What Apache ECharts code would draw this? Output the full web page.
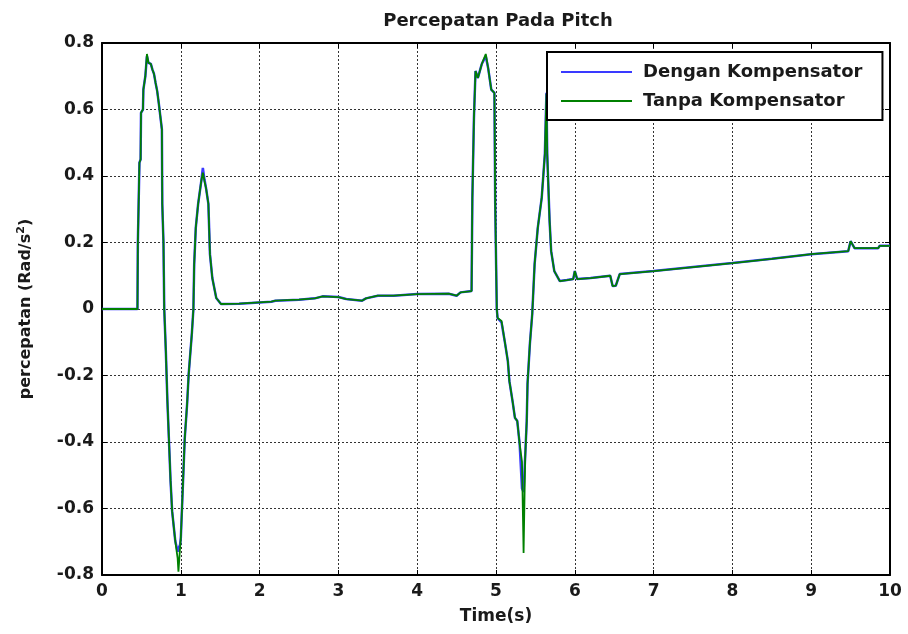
<!DOCTYPE html>
<html>
<head>
<meta charset="utf-8">
<title>Percepatan Pada Pitch</title>
<script src="https://cdn.jsdelivr.net/npm/echarts@6/dist/echarts.min.js"></script>
<style>
  html, body { margin: 0; padding: 0; background: #ffffff; }
  #chart { width: 908px; height: 634px; }
</style>
</head>
<body>
<div id="chart"></div>
<script>
// Pitch acceleration response, with and without the compensator.
const seriesNames = ['Dengan Kompensator', 'Tanpa Kompensator'];

// Sample times (s)
const times = [
  0, 0.45, 0.455, 0.47, 0.475, 0.49, 0.495, 0.52, 0.525, 0.55,
  0.57, 0.59, 0.62, 0.64, 0.66, 0.68, 0.70, 0.72, 0.74, 0.76,
  0.765, 0.78, 0.79, 0.81, 0.83, 0.85, 0.87, 0.89, 0.93, 0.96,
  0.97, 0.99, 1.0, 1.02, 1.05, 1.08, 1.10, 1.14, 1.16, 1.17,
  1.19, 1.22, 1.26, 1.28, 1.30, 1.32, 1.35, 1.37, 1.40, 1.45,
  1.51, 1.74, 1.76, 2.15, 2.2, 2.5, 2.7, 2.8, 3.0, 3.1,
  3.3, 3.35, 3.5, 3.7, 4.0, 4.4, 4.5, 4.55, 4.69, 4.70,
  4.72, 4.74, 4.77, 4.82, 4.87, 4.90, 4.94, 4.98, 4.99, 5.01,
  5.02, 5.07, 5.11, 5.15, 5.17, 5.21, 5.24, 5.27, 5.30, 5.33,
  5.35, 5.37, 5.39, 5.40, 5.43, 5.46, 5.49, 5.53, 5.58, 5.62,
  5.64, 5.65, 5.68, 5.70, 5.74, 5.81, 5.90, 5.98, 6.0, 6.03,
  6.2, 6.45, 6.48, 6.52, 6.57, 7.0, 7.5, 8.0, 8.5, 9.0,
  9.47, 9.5, 9.55, 9.85, 9.87, 10
];

// Acceleration with compensator (rad/s^2)
const denganKompensator = [
  0, 0, 0.2, 0.2, 0.44, 0.45, 0.59, 0.6, 0.66, 0.7,
  0.76, 0.74, 0.737, 0.72, 0.707, 0.68, 0.656, 0.62, 0.58, 0.54,
  0.316, 0.2, 0.0, -0.126, -0.277, -0.397, -0.517, -0.608, -0.698, -0.73,
  -0.72, -0.71, -0.69, -0.57, -0.39, -0.286, -0.196, -0.075, 0.0, 0.135,
  0.244, 0.316, 0.385, 0.424, 0.39, 0.364, 0.316, 0.165, 0.093, 0.033,
  0.015, 0.016, 0.02, 0.022, 0.025, 0.028, 0.032, 0.038, 0.036, 0.03,
  0.025, 0.032, 0.04, 0.04, 0.045, 0.046, 0.04, 0.05, 0.054, 0.334,
  0.574, 0.716, 0.695, 0.737, 0.76, 0.725, 0.66, 0.65, 0.316, 0.0,
  -0.027, -0.04, -0.096, -0.156, -0.217, -0.277, -0.327, -0.337, -0.406, -0.54,
  -0.55, -0.55, -0.337, -0.226, -0.105, -0.015, 0.135, 0.244, 0.334, 0.466,
  0.65, 0.466, 0.265, 0.174, 0.114, 0.084, 0.087, 0.09, 0.114, 0.09,
  0.093, 0.1, 0.069, 0.07, 0.105, 0.114, 0.126, 0.138, 0.151, 0.165,
  0.174, 0.204, 0.183, 0.183, 0.19, 0.19
];

// Acceleration without compensator (rad/s^2)
const tanpaKompensator = [
  0, 0, 0.2, 0.2, 0.44, 0.45, 0.59, 0.6, 0.66, 0.7,
  0.767, 0.74, 0.737, 0.72, 0.707, 0.68, 0.656, 0.62, 0.58, 0.54,
  0.316, 0.2, 0.0, -0.126, -0.277, -0.397, -0.517, -0.608, -0.698, -0.75,
  -0.79, -0.72, -0.69, -0.57, -0.39, -0.286, -0.196, -0.075, 0.0, 0.135,
  0.244, 0.316, 0.385, 0.41, 0.385, 0.364, 0.316, 0.165, 0.093, 0.033,
  0.015, 0.016, 0.02, 0.022, 0.025, 0.028, 0.032, 0.038, 0.036, 0.03,
  0.025, 0.032, 0.04, 0.04, 0.045, 0.046, 0.04, 0.05, 0.054, 0.334,
  0.574, 0.716, 0.695, 0.737, 0.767, 0.725, 0.66, 0.65, 0.316, 0.0,
  -0.027, -0.036, -0.096, -0.156, -0.217, -0.277, -0.327, -0.337, -0.406, -0.46,
  -0.734, -0.45, -0.337, -0.226, -0.105, -0.015, 0.135, 0.244, 0.334, 0.466,
  0.647, 0.466, 0.265, 0.174, 0.114, 0.084, 0.087, 0.09, 0.114, 0.09,
  0.093, 0.1, 0.069, 0.07, 0.105, 0.114, 0.126, 0.138, 0.151, 0.165,
  0.174, 0.204, 0.183, 0.183, 0.19, 0.19
];

// Axis tick labels
const xTickLabels = ['0', '1', '2', '3', '4', '5', '6', '7', '8', '9', '10'];
const yTickLabels = ['-0.8', '-0.6', '-0.4', '-0.2', '0', '0.2', '0.4', '0.6', '0.8'];

const FONT = 'DejaVu Sans';
const TEXT_COLOR = '#1a1a1a';
const pair = (ys) => times.map((t, i) => [t, ys[i]]);

const gridLine = { show: true, lineStyle: { color: '#333', width: 1, type: [2, 2] } };
const frameLine = { show: true, onZero: false, lineStyle: { color: '#000', width: 2 } };
const innerTick = { show: true, inside: true, length: 5, lineStyle: { color: '#000', width: 1 } };

const chart = echarts.init(document.getElementById('chart'), null, { renderer: 'canvas' });

chart.setOption({
  backgroundColor: '#ffffff',
  animation: false,
  title: {
    text: 'Percepatan Pada Pitch',
    left: 493,
    top: 7,
    textAlign: 'center',
    textStyle: { fontFamily: FONT, fontSize: 18, fontWeight: 'bold', color: TEXT_COLOR }
  },
  grid: { left: 102, right: 18, top: 43, bottom: 59, containLabel: false },
  legend: {
    orient: 'vertical',
    left: 547,
    top: 52,
    padding: [10, 20, 9, 14],
    itemWidth: 71,
    itemHeight: 2,
    itemGap: 9,
    backgroundColor: '#ffffff',
    borderColor: '#000',
    borderWidth: 2,
    borderRadius: 0,
    icon: 'rect',
    data: seriesNames,
    textStyle: {
      fontFamily: FONT, fontSize: 18, fontWeight: 'bold', color: TEXT_COLOR,
      lineHeight: 20, padding: [0, 0, 0, 6]
    }
  },
  xAxis: [
    {
      type: 'value', min: 0, max: 10, interval: 1, position: 'bottom',
      name: 'Time(s)', nameLocation: 'middle', nameGap: 33,
      nameTextStyle: { fontFamily: FONT, fontSize: 17, fontWeight: 'bold', color: TEXT_COLOR },
      axisLine: frameLine, axisTick: innerTick, splitLine: gridLine,
      axisLabel: {
        margin: 8, fontFamily: FONT, fontSize: 17, fontWeight: 'bold', color: TEXT_COLOR,
        formatter: (v) => xTickLabels[Math.round(v)]
      }
    },
    {
      type: 'value', min: 0, max: 10, interval: 1, position: 'top',
      axisLine: frameLine, axisTick: innerTick, splitLine: { show: false },
      axisLabel: { show: false }
    }
  ],
  yAxis: [
    {
      type: 'value', min: -0.8, max: 0.8, interval: 0.2, position: 'left',
      name: 'percepatan (Rad/s{sup|2})', nameLocation: 'middle', nameGap: 67, nameRotate: 90,
      nameTextStyle: {
        fontFamily: FONT, fontSize: 16, fontWeight: 'bold', color: TEXT_COLOR,
        rich: {
          sup: {
            fontFamily: FONT, fontSize: 11, fontWeight: 'bold', color: TEXT_COLOR,
            verticalAlign: 'top', padding: [0, 0, 8, 0]
          }
        }
      },
      axisLine: frameLine, axisTick: innerTick, splitLine: gridLine,
      axisLabel: {
        margin: 8, fontFamily: FONT, fontSize: 17, fontWeight: 'bold', color: TEXT_COLOR,
        formatter: (v) => yTickLabels[Math.round((v + 0.8) / 0.2)]
      }
    },
    {
      type: 'value', min: -0.8, max: 0.8, interval: 0.2, position: 'right',
      axisLine: frameLine, axisTick: innerTick, splitLine: { show: false },
      axisLabel: { show: false }
    }
  ],
  series: [
    {
      name: seriesNames[0], type: 'line', xAxisIndex: 0, yAxisIndex: 0,
      data: pair(denganKompensator), showSymbol: false, symbol: 'none',
      color: '#3a3aff', lineStyle: { color: '#3a3aff', width: 2.5 }, z: 2
    },
    {
      name: seriesNames[1], type: 'line', xAxisIndex: 0, yAxisIndex: 0,
      data: pair(tanpaKompensator), showSymbol: false, symbol: 'none',
      color: '#008000', lineStyle: { color: '#008000', width: 1.8 }, z: 3
    }
  ]
});
</script>
</body>
</html>
